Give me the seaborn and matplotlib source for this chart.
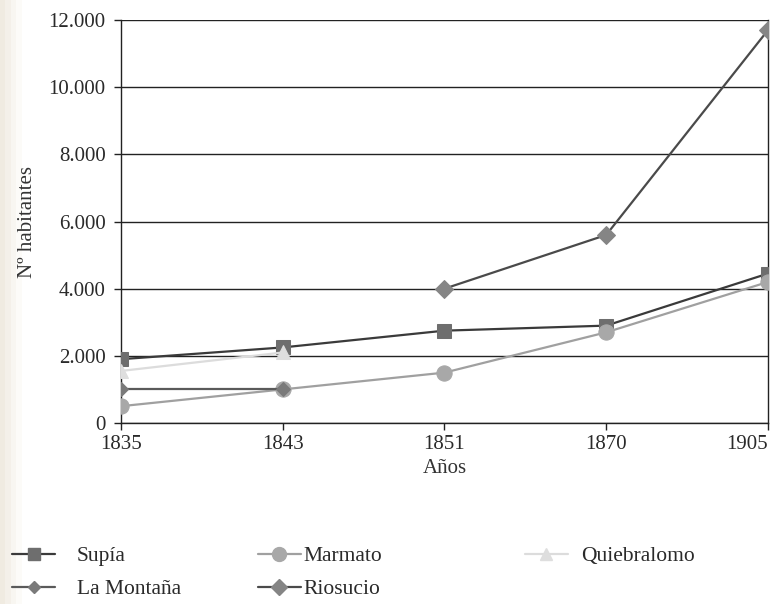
import matplotlib
matplotlib.use("Agg")
import matplotlib.pyplot as plt
import seaborn as sns
import pandas as pd
import numpy as np
from matplotlib.ticker import FuncFormatter
from matplotlib.lines import Line2D
from matplotlib.patches import Rectangle

years = ["1835", "1843", "1851", "1870", "1905"]
supia = [1900, 2250, 2750, 2900, 4450]
marmato = [500, 1000, 1500, 2700, 4200]
quiebralomo = [1550, 2100, np.nan, np.nan, np.nan]
la_montana = [1000, 1000, np.nan, np.nan, np.nan]
riosucio = [np.nan, np.nan, 4000, 5600, 11700]

series_names = ["Supía", "Marmato", "Quiebralomo", "La Montaña", "Riosucio"]
series_vals = [supia, marmato, quiebralomo, la_montana, riosucio]

sns.set_theme(style="white")
plt.rcParams["font.family"] = ["Liberation Serif", "DejaVu Serif"]

fig = plt.figure(figsize=(7.72, 6.04), dpi=100)
# faint scanned-page tint on the left edge
for i, c in enumerate(["#f0ebe1", "#f4f0e9", "#f8f6f1", "#fcfbf8"]):
    fig.patches.append(Rectangle((i * 0.007, 0), 0.007, 1, transform=fig.transFigure,
                                 color=c, zorder=-10, lw=0))
ax = fig.add_axes([0.1567, 0.2997, 0.838, 0.667])

styles = {
    "Supía": dict(marker="s", line="#3a3a3a", mfc="#6e6e6e", ms=10, lw=1.6),
    "Marmato": dict(marker="o", line="#a0a0a0", mfc="#a8a8a8", ms=11, lw=1.6),
    "Quiebralomo": dict(marker="^", line="#dcdcdc", mfc="#dedede", ms=10, lw=1.6),
    "La Montaña": dict(marker="D", line="#5a5a5a", mfc="#7a7a7a", ms=7, lw=1.6),
    "Riosucio": dict(marker="D", line="#4a4a4a", mfc="#858585", ms=9, lw=1.6),
}

for name, vals in zip(series_names, series_vals):
    df = pd.DataFrame({"Año": years, "hab": vals}).dropna()
    st = styles[name]
    sns.lineplot(data=df, x="Año", y="hab", ax=ax, color=st["line"], lw=st["lw"],
                 marker=st["marker"], markersize=st["ms"], markerfacecolor=st["mfc"],
                 markeredgecolor=st["mfc"], sort=False, zorder=3)

ax.set_xlim(0, 4)
ax.set_ylim(0, 12000)
ax.set_yticks(np.arange(0, 12001, 2000))
ax.yaxis.set_major_formatter(FuncFormatter(lambda v, p: f"{int(v):,}".replace(",", ".")))
ax.grid(axis="y", color="#222222", lw=1.0)
ax.grid(axis="x", visible=False)
ax.spines["top"].set_visible(False)
for s in ["left", "right", "bottom"]:
    ax.spines[s].set_color("#222222")
    ax.spines[s].set_linewidth(1.0)
ax.tick_params(axis="both", which="major", length=5, width=1, color="#222222",
               labelsize=15, labelcolor="#2a2a2a", bottom=True, left=True, direction="out")
ax.tick_params(axis="y", pad=6)
xt = ax.get_xticklabels()
xt[-1].set_horizontalalignment("right")
ax.set_xlabel("Años", fontsize=15, color="#333333", labelpad=4)
ax.set_ylabel("Nº habitantes", fontsize=15, color="#333333", labelpad=8)

def handle(name):
    st = styles[name]
    return Line2D([0], [0], color=st["line"], lw=st["lw"], marker=st["marker"],
                  markersize=st["ms"] - 1, markerfacecolor=st["mfc"],
                  markeredgecolor=st["mfc"])

cols = [(["Supía", "La Montaña"], 0.016, 1.0),
        (["Marmato", "Riosucio"], 0.334, 0.1),
        (["Quiebralomo"], 0.68, 0.6)]
for names, x0, pad in cols:
    leg = fig.legend([handle(n) for n in names], names, loc="upper left",
                     bbox_to_anchor=(x0, 0.096), bbox_transform=fig.transFigure,
                     frameon=False, fontsize=15.5, handlelength=2.0,
                     handletextpad=pad, labelspacing=0.6,
                     borderaxespad=0, borderpad=0)
    for t in leg.get_texts():
        t.set_color("#2a2a2a")

fig.savefig("out.png", dpi=100)
